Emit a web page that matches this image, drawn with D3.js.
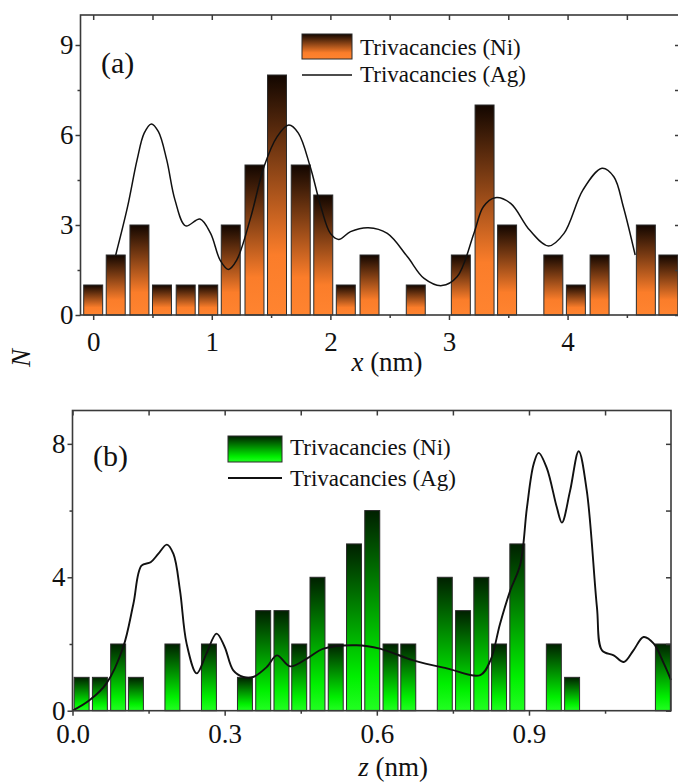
<!DOCTYPE html>
<html>
<head>
<meta charset="utf-8">
<script src="https://cdnjs.cloudflare.com/ajax/libs/d3/7.8.5/d3.min.js"></script>
<style>
  body { margin: 0; background: #fff; }
  svg text { font-family: "Liberation Serif", "DejaVu Serif", serif !important; }
</style>
</head>
<body>
<div id="chart"></div>
<script>
var width = 678, height = 783;

// (a) distribution along x
var binsA   = [0.00, 0.19, 0.39, 0.58, 0.78, 0.97, 1.16, 1.36, 1.55, 1.75, 1.94, 2.13, 2.33,
               2.72, 3.10, 3.30, 3.49, 3.88, 4.07, 4.27, 4.66, 4.85];
var countsA = [1, 2, 3, 1, 1, 1, 3, 5, 8, 5, 4, 1, 2,
               1, 2, 7, 3, 2, 1, 2, 3, 2];
var agXA = [0.19, 0.29, 0.37, 0.43, 0.49, 0.55, 0.62, 0.69, 0.78, 0.90, 0.99, 1.07, 1.14, 1.21,
            1.33, 1.44, 1.55, 1.65, 1.73, 1.83, 1.92, 2.00, 2.07, 2.17, 2.32, 2.48, 2.65, 2.79,
            2.94, 3.07, 3.21, 3.29, 3.39, 3.52, 3.68, 3.84, 3.97, 4.13, 4.29, 4.39, 4.47, 4.57];
var agNA = [2.00, 3.61, 5.17, 6.06, 6.37, 6.11, 5.17, 3.83, 2.97, 3.20, 2.72, 1.83, 1.52, 1.83,
            3.28, 4.94, 5.94, 6.33, 6.06, 4.94, 3.61, 2.72, 2.52, 2.78, 2.91, 2.72, 1.94, 1.22,
            0.98, 1.28, 2.72, 3.61, 3.91, 3.72, 2.83, 2.30, 2.72, 4.17, 4.89, 4.61, 3.61, 2.00];

// (b) distribution along z
var binsB   = [0.018, 0.054, 0.090, 0.125, 0.197, 0.269, 0.340, 0.376, 0.412, 0.447, 0.483, 0.519,
               0.555, 0.591, 0.627, 0.662, 0.734, 0.770, 0.806, 0.841, 0.877, 0.949, 0.985, 1.164];
var countsB = [1, 1, 2, 1, 2, 2, 1, 3, 3, 2, 4, 2,
               5, 6, 2, 2, 4, 3, 4, 2, 5, 2, 1, 2];
var agZB = [0.000, 0.034, 0.067, 0.100, 0.120, 0.136, 0.154, 0.169, 0.186, 0.199, 0.212, 0.225,
            0.245, 0.264, 0.284, 0.300, 0.317, 0.337, 0.356, 0.383, 0.403, 0.429, 0.462, 0.495,
            0.560, 0.606, 0.672, 0.738, 0.804, 0.824, 0.843, 0.863, 0.883, 0.896, 0.909, 0.919,
            0.935, 0.955, 0.965, 0.981, 0.998, 1.014, 1.034, 1.044, 1.067, 1.087, 1.106, 1.126,
            1.146, 1.166, 1.180];
var agNB = [0.00, 0.32, 0.82, 1.91, 3.20, 4.35, 4.45, 4.70, 4.98, 4.70, 3.60, 2.01,
            1.12, 1.71, 2.31, 1.91, 1.21, 1.01, 1.01, 1.31, 1.66, 1.33, 1.56, 1.86,
            1.96, 1.86, 1.51, 1.27, 1.07, 1.51, 2.61, 3.60, 4.40, 6.09, 7.38, 7.73,
            7.28, 6.09, 5.64, 6.59, 7.78, 6.59, 3.10, 1.81, 1.66, 1.46, 1.81, 2.21,
            2.01, 1.41, 0.92];

var xTicksA = [0, 1, 2, 3, 4], yTicksA = [0, 3, 6, 9];
var xTicksB = [0, 0.3, 0.6, 0.9], yTicksB = [0, 4, 8];
var xTickLabelsB = ["0.0", "0.3", "0.6", "0.9"];
var legendNames = ["Trivacancies (Ni)", "Trivacancies (Ag)"];

var serif = "Liberation Serif, DejaVu Serif, serif";

var svg = d3.select("#chart")
  .append("svg")
    .attr("width", width)
    .attr("height", height)
    .attr("font-family", serif);

var defs = svg.append("defs");

function gradient(id, stops) {
  var g = defs.append("linearGradient")
      .attr("id", id)
      .attr("x1", 0).attr("y1", 0).attr("x2", 0).attr("y2", 1);
  stops.forEach(function(s) {
    g.append("stop").attr("offset", s[0]).attr("stop-color", s[1]);
  });
}
gradient("gradOrange", [[0, "#120600"], [0.75, "#fb7d2a"], [1, "#ff8430"]]);
gradient("gradGreen",  [[0, "#002000"], [0.8, "#00f000"], [1, "#22ff22"]]);

var axisColor = "#3a3a3a";

function panel(c) {
  var x = d3.scaleLinear().domain(c.xDomain).range([c.left, c.right]);
  var y = d3.scaleLinear().domain(c.yDomain).range([c.bottom, c.top]);
  var g = svg.append("g");

  // bars
  g.selectAll("rect.bar")
      .data(c.bins.map(function(b, i) { return {x: b, n: c.counts[i]}; }))
    .enter().append("rect")
      .attr("class", "bar")
      .attr("x", function(d) { return x(d.x - c.barW / 2); })
      .attr("y", function(d) { return y(d.n); })
      .attr("width", function(d) { return x(d.x + c.barW / 2) - x(d.x - c.barW / 2); })
      .attr("height", function(d) { return y(0) - y(d.n); })
      .attr("fill", "url(#" + c.grad + ")")
      .attr("stroke", "#2b2b2b")
      .attr("stroke-width", 1);

  // Ag curve
  var line = d3.line()
      .x(function(d) { return x(d[0]); })
      .y(function(d) { return y(d[1]); })
      .curve(d3.curveCatmullRom.alpha(0.5));
  g.append("path")
      .datum(c.lineX.map(function(v, i) { return [v, c.lineY[i]]; }))
      .attr("d", line)
      .attr("fill", "none")
      .attr("stroke", "#111")
      .attr("stroke-width", c.lineW);

  // axes
  function styleAxis(sel) {
    sel.attr("font-family", serif).attr("font-size", 27);
    sel.select(".domain").remove();
    sel.selectAll("line").attr("stroke", axisColor).attr("stroke-width", 1.5);
    sel.selectAll("text").attr("fill", "#111");
  }
  var fmt = function(d, i) { return c.xLabels ? c.xLabels[i] : d; };

  g.append("g").attr("transform", "translate(0," + c.bottom + ")")
      .call(d3.axisBottom(x).tickValues(c.xMinor).tickSize(3).tickFormat(""))
      .call(styleAxis);
  g.append("g").attr("transform", "translate(0," + c.bottom + ")")
      .call(d3.axisBottom(x).tickValues(c.xTicks).tickSize(5).tickPadding(c.xPad).tickFormat(fmt))
      .call(styleAxis);
  g.append("g").attr("transform", "translate(" + c.left + ",0)")
      .call(d3.axisLeft(y).tickValues(c.yMinor).tickSize(3).tickFormat(""))
      .call(styleAxis);
  g.append("g").attr("transform", "translate(" + c.left + ",0)")
      .call(d3.axisLeft(y).tickValues(c.yTicks).tickSize(5).tickPadding(2))
      .call(styleAxis);
  g.append("g").attr("transform", "translate(0," + c.top + ")")
      .call(d3.axisTop(x).tickValues(c.xTicks.concat(c.xMinor)).tickSize(-5).tickFormat(""))
      .call(styleAxis);
  g.append("g").attr("transform", "translate(" + c.right + ",0)")
      .call(d3.axisRight(y).tickValues(c.yTicks.concat(c.yMinor)).tickSize(-5).tickFormat(""))
      .call(styleAxis);

  g.append("rect")
      .attr("x", c.left).attr("y", c.top)
      .attr("width", c.right - c.left).attr("height", c.bottom - c.top)
      .attr("fill", "none")
      .attr("stroke", axisColor)
      .attr("stroke-width", 1.6);

  // panel label
  g.append("text")
      .attr("x", c.label[1]).attr("y", c.label[2])
      .attr("font-size", 30)
      .attr("fill", "#111")
      .text(c.label[0]);

  // legend
  var L = c.legend;
  g.append("rect")
      .attr("x", L.x).attr("y", L.y).attr("width", L.w).attr("height", L.h)
      .attr("fill", "url(#" + c.grad + ")")
      .attr("stroke", "#2b2b2b").attr("stroke-width", 1);
  g.append("line")
      .attr("x1", L.x).attr("x2", L.x + L.w)
      .attr("y1", L.lineY).attr("y2", L.lineY)
      .attr("stroke", "#111").attr("stroke-width", c.lineW);
  g.selectAll("text.leg")
      .data(legendNames)
    .enter().append("text")
      .attr("class", "leg")
      .attr("x", L.tx)
      .attr("y", function(d, i) { return i ? L.ty2 : L.ty1; })
      .attr("font-size", 23)
      .attr("fill", "#111")
      .text(function(d) { return d; });

  // x title
  var t = g.append("text")
      .attr("x", c.title[1]).attr("y", c.title[2])
      .attr("text-anchor", "middle")
      .attr("font-size", 27)
      .attr("fill", "#111");
  t.append("tspan").attr("font-style", "italic").text(c.title[0]);
  t.append("tspan").text(" (nm)");
}

panel({
  left: 80.5, right: 680, top: 15, bottom: 315,
  xDomain: [-0.107, 4.948], yDomain: [0, 10],
  bins: binsA, counts: countsA, barW: 0.16, grad: "gradOrange",
  lineX: agXA, lineY: agNA, lineW: 1.5,
  xTicks: xTicksA, xMinor: [0.5, 1.5, 2.5, 3.5, 4.5], xPad: 12,
  yTicks: yTicksA, yMinor: [1.5, 4.5, 7.5],
  label: ["(a)", 101, 73],
  legend: {x: 302, y: 34, w: 50, h: 25, lineY: 75, tx: 360, ty1: 55, ty2: 82},
  title: ["x", 387, 371]
});

panel({
  left: 72.5, right: 671, top: 410.5, bottom: 710.7,
  xDomain: [0, 1.18], yDomain: [0, 9],
  bins: binsB, counts: countsB, barW: 0.0295, grad: "gradGreen",
  lineX: agZB, lineY: agNB, lineW: 1.9,
  xTicks: xTicksB, xLabels: xTickLabelsB, xMinor: [0.15, 0.45, 0.75, 1.05], xPad: 8,
  yTicks: yTicksB, yMinor: [2, 6],
  label: ["(b)", 93, 466],
  legend: {x: 228, y: 436, w: 54, h: 26, lineY: 478, tx: 290, ty1: 455, ty2: 486},
  title: ["z", 393, 776]
});

// shared y title
svg.append("text")
    .attr("transform", "translate(30,358) rotate(-90)")
    .attr("text-anchor", "middle")
    .attr("font-size", 27)
    .attr("font-style", "italic")
    .attr("fill", "#111")
    .text("N");
</script>
</body>
</html>
